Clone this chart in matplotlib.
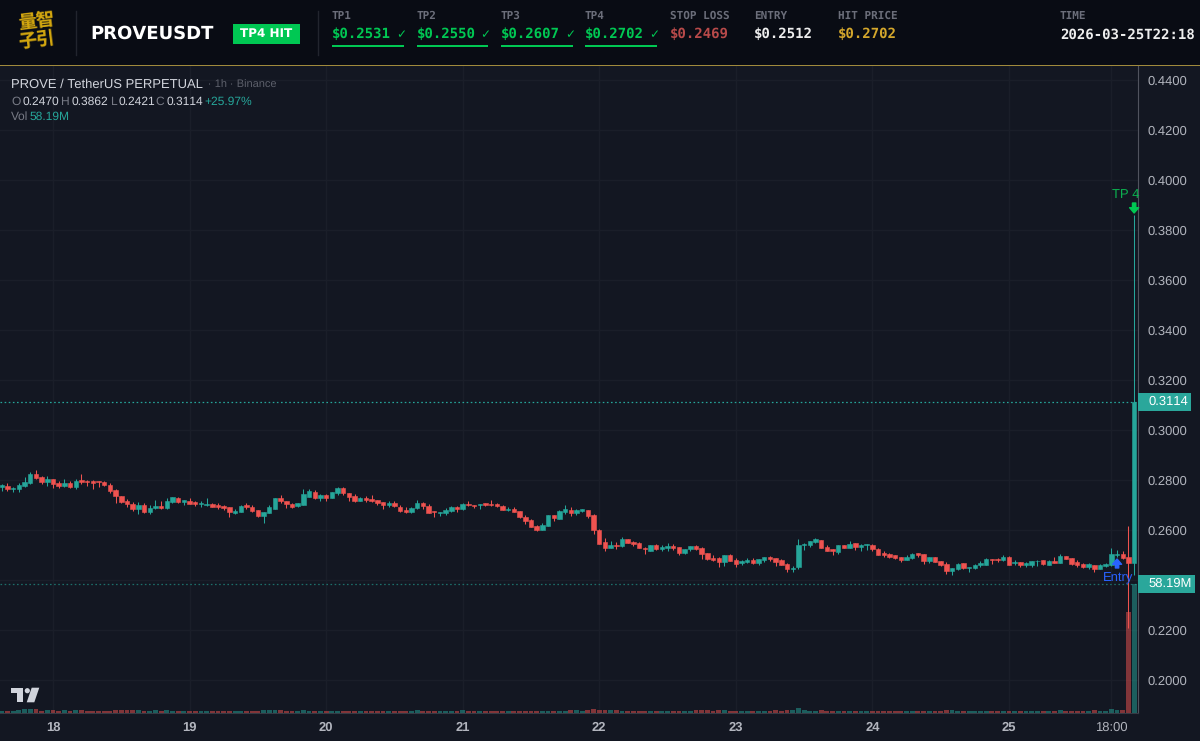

import numpy as np
import matplotlib
matplotlib.use('Agg')
import matplotlib.pyplot as plt
from matplotlib.patches import Rectangle, Polygon, Circle

# precos por candle (1h), 17/03 15:00 ate 25/03 22:00
opens = [
    .2773,.2777,.2764,.2764,.2776,.2788,.2825,.2813,.2792,.2803,.2788,.2776,.2788,.2773,.2800,.2797,.2796,.2795,.2792,.2780,
    .2761,.2736,.2716,.2704,.2683,.2701,.2673,.2687,.2696,.2687,.2713,.2728,.2713,.2716,.2711,.2703,.2699,.2705,.2699,.2695,
    .2691,.2669,.2672,.2699,.2691,.2680,.2657,.2669,.2685,.2728,.2716,.2705,.2696,.2701,.2733,.2753,.2728,.2740,.2729,.2747,
    .2768,.2747,.2736,.2717,.2728,.2724,.2720,.2712,.2699,.2709,.2693,.2680,.2672,.2688,.2708,.2697,.2676,.2668,.2668,.2676,
    .2693,.2683,.2705,.2701,.2699,.2707,.2704,.2703,.2697,.2680,.2684,.2675,.2653,.2641,.2616,.2600,.2616,.2660,.2645,.2673,
    .2679,.2667,.2677,.2680,.2660,.2600,.2552,.2529,.2539,.2536,.2563,.2551,.2548,.2529,.2517,.2540,.2523,.2529,.2537,.2531,
    .2507,.2523,.2536,.2528,.2507,.2489,.2488,.2473,.2499,.2480,.2467,.2472,.2481,.2467,.2480,.2492,.2488,.2480,.2464,.2445,
    .2451,.2539,.2539,.2552,.2559,.2532,.2524,.2513,.2540,.2529,.2548,.2533,.2539,.2541,.2525,.2507,.2503,.2499,.2491,.2480,
    .2488,.2507,.2503,.2476,.2491,.2476,.2464,.2437,.2443,.2467,.2448,.2447,.2459,.2461,.2484,.2484,.2480,.2492,.2467,.2472,
    .2461,.2461,.2475,.2480,.2461,.2476,.2469,.2496,.2488,.2472,.2464,.2451,.2461,.2444,.2456,.2459,.2500,.2505,.2492,.2470,
]
highs = [
    .2784,.2787,.2773,.2787,.2811,.2832,.2840,.2816,.2816,.2805,.2797,.2803,.2795,.2803,.2823,.2800,.2800,.2797,.2797,.2789,
    .2765,.2736,.2724,.2712,.2712,.2709,.2701,.2720,.2715,.2728,.2733,.2733,.2720,.2728,.2717,.2715,.2728,.2709,.2707,.2699,
    .2691,.2683,.2699,.2707,.2699,.2680,.2672,.2701,.2728,.2740,.2716,.2707,.2709,.2763,.2763,.2759,.2744,.2744,.2751,.2773,
    .2771,.2747,.2744,.2731,.2736,.2740,.2720,.2712,.2716,.2716,.2701,.2691,.2691,.2720,.2712,.2704,.2676,.2672,.2687,.2697,
    .2696,.2709,.2716,.2701,.2704,.2709,.2720,.2707,.2699,.2691,.2691,.2675,.2659,.2643,.2619,.2627,.2660,.2660,.2680,.2699,
    .2693,.2684,.2683,.2680,.2663,.2603,.2567,.2555,.2552,.2571,.2563,.2556,.2552,.2532,.2540,.2544,.2539,.2547,.2544,.2532,
    .2524,.2536,.2540,.2531,.2507,.2499,.2491,.2500,.2503,.2489,.2480,.2488,.2488,.2483,.2492,.2497,.2488,.2485,.2467,.2456,
    .2563,.2548,.2555,.2568,.2560,.2540,.2524,.2540,.2540,.2555,.2548,.2545,.2543,.2544,.2528,.2517,.2508,.2500,.2491,.2499,
    .2507,.2507,.2504,.2491,.2491,.2476,.2472,.2449,.2469,.2469,.2453,.2465,.2476,.2487,.2484,.2488,.2500,.2495,.2480,.2473,
    .2473,.2476,.2480,.2480,.2480,.2491,.2504,.2496,.2488,.2480,.2469,.2469,.2461,.2464,.2469,.2527,.2520,.2517,.2616,.3862,
]
lows = [
    .2757,.2757,.2753,.2753,.2773,.2784,.2803,.2784,.2776,.2768,.2768,.2771,.2768,.2764,.2784,.2776,.2765,.2773,.2776,.2747,
    .2709,.2709,.2693,.2677,.2664,.2669,.2664,.2684,.2684,.2683,.2709,.2707,.2701,.2703,.2696,.2691,.2696,.2691,.2684,.2680,
    .2653,.2664,.2671,.2685,.2672,.2653,.2629,.2667,.2683,.2709,.2689,.2688,.2693,.2700,.2731,.2725,.2716,.2716,.2728,.2740,
    .2739,.2716,.2713,.2716,.2713,.2711,.2700,.2685,.2691,.2691,.2671,.2668,.2668,.2683,.2683,.2667,.2653,.2656,.2661,.2673,
    .2672,.2680,.2696,.2689,.2685,.2696,.2696,.2693,.2679,.2675,.2671,.2649,.2623,.2612,.2596,.2599,.2615,.2637,.2644,.2664,
    .2656,.2660,.2671,.2649,.2584,.2543,.2517,.2528,.2524,.2533,.2547,.2537,.2528,.2505,.2516,.2520,.2517,.2517,.2520,.2501,
    .2505,.2517,.2521,.2484,.2480,.2476,.2453,.2456,.2475,.2453,.2460,.2467,.2464,.2460,.2473,.2477,.2457,.2459,.2432,.2432,
    .2443,.2520,.2533,.2549,.2527,.2515,.2500,.2503,.2527,.2528,.2520,.2517,.2520,.2517,.2499,.2493,.2488,.2485,.2472,.2479,
    .2484,.2491,.2464,.2467,.2471,.2457,.2425,.2421,.2440,.2445,.2432,.2443,.2453,.2460,.2464,.2472,.2476,.2460,.2460,.2453,
    .2453,.2453,.2457,.2460,.2460,.2468,.2468,.2483,.2461,.2453,.2448,.2445,.2432,.2443,.2453,.2456,.2493,.2485,.2208,.2421,
]
closes = [
    .2779,.2765,.2768,.2780,.2792,.2824,.2807,.2792,.2803,.2785,.2776,.2788,.2772,.2797,.2791,.2793,.2789,.2791,.2780,.2757,
    .2737,.2713,.2703,.2683,.2701,.2672,.2689,.2697,.2687,.2716,.2731,.2713,.2720,.2705,.2703,.2707,.2704,.2693,.2691,.2687,
    .2672,.2676,.2697,.2691,.2676,.2657,.2672,.2691,.2728,.2716,.2705,.2693,.2708,.2744,.2755,.2729,.2740,.2729,.2751,.2769,
    .2747,.2732,.2716,.2728,.2720,.2717,.2709,.2700,.2709,.2695,.2676,.2673,.2687,.2709,.2696,.2669,.2671,.2672,.2680,.2693,
    .2683,.2705,.2699,.2696,.2704,.2699,.2699,.2696,.2680,.2685,.2673,.2651,.2637,.2613,.2601,.2619,.2660,.2647,.2676,.2684,
    .2668,.2680,.2683,.2657,.2600,.2544,.2529,.2540,.2535,.2564,.2548,.2544,.2529,.2523,.2540,.2523,.2531,.2536,.2527,.2508,
    .2524,.2536,.2525,.2503,.2484,.2480,.2473,.2500,.2477,.2465,.2476,.2481,.2468,.2483,.2491,.2483,.2473,.2461,.2445,.2449,
    .2539,.2543,.2555,.2563,.2528,.2517,.2515,.2540,.2528,.2544,.2532,.2541,.2543,.2523,.2500,.2500,.2493,.2489,.2480,.2492,
    .2504,.2499,.2476,.2491,.2472,.2461,.2436,.2448,.2465,.2448,.2453,.2461,.2467,.2484,.2480,.2480,.2491,.2461,.2472,.2459,
    .2468,.2475,.2477,.2465,.2476,.2469,.2496,.2485,.2464,.2459,.2451,.2463,.2443,.2459,.2463,.2504,.2505,.2488,.2468,.3114,
]
# volume em milhoes
volumes = [
    .9,.9,.9,1.35,1.8,1.8,1.8,.9,1.35,1.35,.9,1.35,.9,1.35,1.35,.9,.9,.9,.9,.9,
    1.35,1.35,1.35,1.35,1.35,.9,.9,1.35,.9,1.35,.9,.9,.9,.9,.9,.9,.9,.9,.9,.9,
    .9,.9,.9,.9,.9,.9,1.35,1.35,1.35,1.35,.9,.9,.9,1.35,.9,.9,.9,.9,.9,.9,
    .9,.9,.9,.9,.9,.9,.9,.9,.9,.9,.9,.9,.9,1.35,.9,.9,.9,.9,.9,.9,
    .9,1.35,.9,.9,.9,.9,.9,.9,.9,.9,.9,.9,.9,.9,.9,.9,.9,.9,.9,.9,
    1.35,1.35,.9,1.35,1.8,1.35,1.35,1.35,1.35,.9,.9,.9,.9,.9,.9,.9,.9,.9,.9,.9,
    .9,.9,1.35,1.35,1.35,.9,1.35,1.35,.9,.9,.9,.9,.9,.9,.9,.9,1.35,.9,1.35,1.35,
    2.25,1.35,.9,.9,1.35,.9,.9,.9,.9,.9,.9,.9,.9,.9,.9,.9,.9,.9,.9,.9,
    .9,.9,.9,.9,.9,.9,1.35,1.35,.9,.9,.9,.9,.9,.9,.9,.9,.9,.9,.9,.9,
    .9,.9,.9,.9,.9,.9,1.35,.9,.9,.9,.9,.9,1.35,.9,.9,1.8,1.35,1.35,45.6,58.19,
]

price_ticks = [.20,.22,.24,.26,.28,.30,.32,.34,.36,.38,.40,.42,.44]
day_positions = [9,33,57,81,105,129,153,177,195]
day_labels = ['18','19','20','21','22','23','24','25','18:00']

tp_labels = ['TP1','TP2','TP3','TP4']
tp_values = ['$0.2531','$0.2550','$0.2607','$0.2702']

UP = '#26a69a'
DOWN = '#ef5350'
BG = '#131722'
HEADER = '#090c14'
GRID = '#1a1e29'
MUTED = '#787b86'
LIGHT = '#d1d4dc'
GREEN = '#00c853'
BLUE = '#2962ff'

plt.rcParams['font.family'] = ['Liberation Sans', 'DejaVu Sans']
plt.rcParams['text.hinting'] = 'no_hinting'
plt.rcParams['text.hinting_factor'] = 1

fig = plt.figure(figsize=(12, 7.41), dpi=100, facecolor=BG)
rect = [0, 28/741, 1138/1200, 647/741]

# grade e eixos embaixo, volume no meio, candles em cima
ax = fig.add_axes(rect, zorder=1)
ax.set_facecolor(BG)
ax_vol = fig.add_axes(rect, zorder=2)
ax_vol.patch.set_visible(False)
ax_c = fig.add_axes(rect, zorder=3)
ax_c.patch.set_visible(False)

x = np.arange(len(opens))
o, h, l, c = map(np.array, (opens, highs, lows, closes))
cores = np.where(c >= o, UP, DOWN)
xlim = (-0.315, 199.68)
ylim = (0.44 - 633/2500, 0.44 + 14/2500)

ax_vol.bar(x, volumes, width=0.85, color=cores, alpha=0.5)
ax_vol.set_xlim(xlim)
ax_vol.set_ylim(0, 58.19 * 647 / 129)
ax_vol.axis('off')

ax_c.vlines(x, l, h, colors=cores, linewidth=0.75)
ax_c.bar(x, np.maximum(np.abs(c - o), 0.0002), bottom=np.minimum(o, c), width=0.78,
         color=cores, edgecolor=cores, linewidth=0.4, zorder=3)
ax_c.set_xlim(xlim)
ax_c.set_ylim(ylim)
ax_c.axis('off')

ax.set_xlim(xlim)
ax.set_ylim(ylim)
ax.grid(True, color=GRID, linewidth=1)
ax.set_axisbelow(True)

ax.set_yticks(price_ticks)
# 0.2400 fica escondido atras da etiqueta de volume
ax.set_yticklabels(['' if abs(p - .24) < 1e-6 else f'{p:.4f}' for p in price_ticks])
ax.yaxis.tick_right()
ax.tick_params(axis='y', length=0, pad=7, labelsize=9.2, labelcolor='#b2b5be')
ax.set_xticks(day_positions)
ax.set_xticklabels(day_labels)
ax.tick_params(axis='x', length=0, pad=6, labelsize=9.2, labelcolor='#b2b5be')
for lab in ax.get_xticklabels()[:-1]:
    lab.set_fontweight('bold')

for side in ['top', 'left']:
    ax.spines[side].set_visible(False)
ax.spines['right'].set_color('#50535e')
ax.spines['bottom'].set_color('#363a45')

# linhas de preco e volume atuais
ax.axhline(closes[-1], color=UP, linestyle=(0, (1.3, 2)), linewidth=0.9)
ax.axhline(0.44 - (584 - 80)/2500, color='#1d6f6a', linestyle=(0, (1.3, 2)), linewidth=0.9)

# marcadores
ax_c.annotate('', xy=(199, 0.3868), xytext=(199, 0.3908),
              arrowprops=dict(width=2.4, headwidth=6.5, headlength=3.8, color=GREEN, shrink=0))
ax_c.annotate('', xy=(196, 0.2484), xytext=(196, 0.2448),
              arrowprops=dict(width=2.4, headwidth=6.5, headlength=3.8, color=BLUE, shrink=0))

# camada em pixels para cabecalho e legendas
top = fig.add_axes([0, 0, 1, 1], zorder=5)
top.set_xlim(0, 1200)
top.set_ylim(741, 0)
top.axis('off')

top.text(1112.5, 194.5, 'TP 4', color='#0bb04f', fontsize=9, va='center')
top.text(1103, 577.5, 'Entry', color=BLUE, fontsize=9.2, va='center')

top.add_patch(Rectangle((1138, 393), 53, 18, color='#2aa79b', lw=0))
top.text(1148, 402, '0.3114', color='white', fontsize=9.2, va='center')
top.add_patch(Rectangle((1138, 575), 57, 18, color='#2aa79b', lw=0))
top.text(1148, 584, '58.19M', color='white', fontsize=9.2, va='center')

# legenda do grafico
top.text(11, 85, 'PROVE / TetherUS PERPETUAL', color=LIGHT, fontsize=9.6, va='center')
top.text(208, 85.5, '· 1h · Binance', color='#5d606b', fontsize=8.2, va='center')
for xp, txt, cor in [(11, 'O', MUTED), (23, '0.2470', LIGHT), (60, 'H', MUTED), (72, '0.3862', LIGHT),
                     (110, 'L', MUTED), (118.5, '0.2421', LIGHT), (155.5, 'C', MUTED), (167, '0.3114', LIGHT),
                     (204, '+25.97%', UP)]:
    top.text(xp, 102, txt, color=cor, fontsize=8.4, va='center')
top.text(11, 117, 'Vol', color=MUTED, fontsize=8.4, va='center')
top.text(30, 117, '58.19M', color=UP, fontsize=8.4, va='center')

# logo tradingview
top.add_patch(Polygon([(11, 687.7), (23.3, 687.7), (23.3, 702.3), (16.7, 702.3), (16.7, 693.3), (11, 693.3)], color=LIGHT, lw=0))
top.add_patch(Circle((27.3, 690.7), 2.6, color=LIGHT, lw=0))
top.add_patch(Polygon([(31.7, 687.7), (39.3, 687.7), (34.3, 702.3), (26.7, 702.3)], color=LIGHT, lw=0))

# cabecalho
top.add_patch(Rectangle((0, 0), 1200, 64.5, color=HEADER, lw=0))
top.add_patch(Rectangle((0, 64.5), 1200, 1.5, color='#a08a3c', lw=0))
top.plot([76, 76], [11, 55], color='#22252e', lw=1)
top.plot([318, 318], [11, 55], color='#22252e', lw=1)

top.text(36.5, 21.5, '量智', family=['Noto Sans CJK SC', 'DejaVu Sans'], fontweight='bold', color='#d4a80f',
         fontsize=13.2, rotation=7, ha='center', va='center')
top.text(36.5, 40.5, '子引', family=['Noto Sans CJK SC', 'DejaVu Sans'], fontweight='bold', color='#d4a80f',
         fontsize=13.2, rotation=7, ha='center', va='center')

top.text(90.5, 34, 'PROVEUSDT', family='DejaVu Sans', fontweight='bold', color='white', fontsize=13.2, va='center')
top.add_patch(Rectangle((233, 23.5), 67, 20, color=GREEN, lw=0))
top.text(266.5, 33.5, 'TP4 HIT', family='DejaVu Sans', fontweight='bold', color='white', fontsize=8.6, ha='center', va='center')

MONO = 'DejaVu Sans Mono'
tp_x = [332, 416.5, 501, 585]
for xp, lab, val in zip(tp_x, tp_labels, tp_values):
    top.text(xp, 16, lab, family=MONO, color='#6b6e7a', fontsize=8.2, fontweight='bold', va='center')
    top.text(xp, 34.5, val, family=MONO, color=GREEN, fontsize=10.2, fontweight='bold', va='center')
    top.text(xp + 64, 34.5, '✓', family='DejaVu Sans', color=GREEN, fontsize=8.5, va='center')
    top.add_patch(Rectangle((xp, 45), 71.5, 2, color=GREEN, lw=0))

for xp, lab, val, cor in [(670, 'STOP LOSS', '$0.2469', '#b84a4a'), (754, 'ENTRY', '$0.2512', '#eeeeee'),
                          (838, 'HIT PRICE', '$0.2702', '#d4a72c'), (1060, 'TIME', '2026-03-25T22:18', '#eeeeee')]:
    top.text(xp, 16, lab, family=MONO, color='#6b6e7a', fontsize=8.2, fontweight='bold', va='center')
    top.text(xp, 34.5, val, family=MONO, color=cor, fontsize=10.2 if lab != 'TIME' else 10, fontweight='bold', va='center')

fig.savefig('out.png', dpi=100, facecolor=BG)
